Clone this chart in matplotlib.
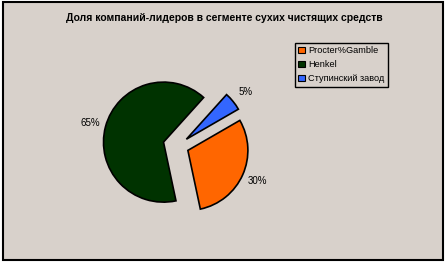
import matplotlib.pyplot as plt
from matplotlib.patches import Rectangle

plt.rcParams['font.family'] = ['Liberation Sans', 'DejaVu Sans']

title = "Доля компаний-лидеров в сегменте сухих чистящих средств"
companies = ["Procter%Gamble", "Henkel", "Ступинский завод"]
shares = [30, 65, 5]
colors = ["#FF6600", "#003300", "#3366FF"]
explode = [0.18, 0.25, 0.18]

W, H = 448, 264
bg = "#D8D1CB"

fig = plt.figure(figsize=(W / 100, H / 100), dpi=100, facecolor="white")

# chart area frame, kept behind the pie
fig.patches.append(Rectangle((3 / W, 4 / H), 440 / W, 258 / H, transform=fig.transFigure,
                             facecolor=bg, edgecolor="black", linewidth=1.5, zorder=-5))

# pie centred at (178, 146) px from top-left, radius 60 px
cx, cy, size = 178, 146, 160
ax = fig.add_axes([(cx - size / 2) / W, (H - cy - size / 2) / H, size / W, size / H])
ax.set_facecolor("none")
ax.axis("off")

wedges, texts, autotexts = ax.pie(
    shares, colors=colors, explode=explode, startangle=30, counterclock=False,
    autopct="%d%%", pctdistance=1.26,
    wedgeprops=dict(edgecolor="black", linewidth=1.2),
    textprops=dict(fontsize=7, color="black"))
ax.set_xlim(-1.333, 1.333)
ax.set_ylim(-1.333, 1.333)
ax.set_aspect("equal")

fig.text(224 / W, 1 - 18 / H, title, ha="center", va="center", fontsize=7.5, fontweight="bold")

leg = fig.legend(wedges, companies, loc="upper left",
                 bbox_to_anchor=(295 / W, 1 - 43 / H), fontsize=6.6,
                 fancybox=False, framealpha=1, facecolor=bg, edgecolor="black",
                 handlelength=0.7, handleheight=0.7, handletextpad=0.4,
                 borderpad=0.35, labelspacing=0.55, borderaxespad=0)
leg.get_frame().set_linewidth(1.0)
for h in leg.legend_handles:
    h.set_linewidth(0.8)

fig.savefig("out.png", dpi=100, facecolor="white")
